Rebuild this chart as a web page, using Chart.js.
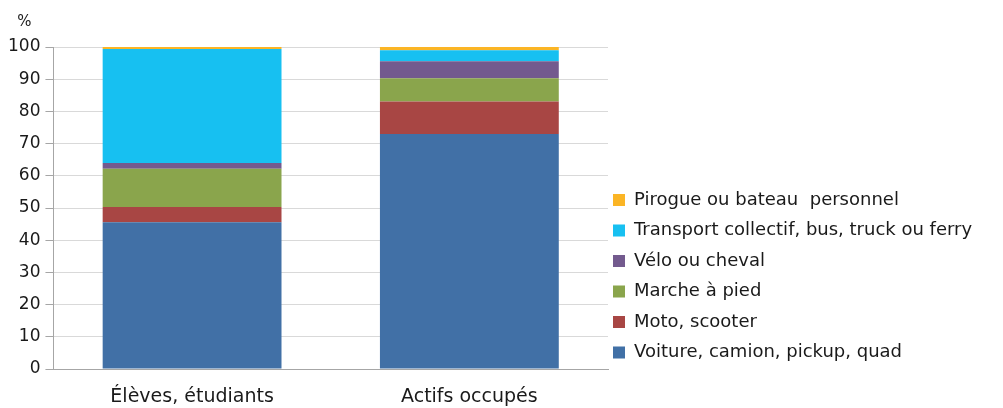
<!DOCTYPE html>
<html>
<head>
<meta charset="utf-8">
<script src="https://cdn.jsdelivr.net/npm/chart.js@4/dist/chart.umd.min.js"></script>
<style>
  html, body { margin: 0; padding: 0; background: #fff; }
  #wrap { position: relative; width: 1003px; height: 408px; }
</style>
</head>
<body>
<div id="wrap"><canvas id="c" width="1003" height="408"></canvas></div>
<script>
const categories = ["Élèves, étudiants", "Actifs occupés"];
const seriesNames = [
  "Voiture, camion, pickup, quad",
  "Moto, scooter",
  "Marche à pied",
  "Vélo ou cheval",
  "Transport collectif, bus, truck ou ferry",
  "Pirogue ou bateau  personnel"
];
const voiture   = [45.6, 73.0];
const moto      = [4.7, 10.1];
const marche    = [11.9, 7.2];
const velo      = [1.8, 5.3];
const transport = [35.4, 3.4];
const pirogue   = [0.6, 1.0];
const yTicks = [0, 10, 20, 30, 40, 50, 60, 70, 80, 90, 100];
const unitLabel = "%";

const colors = ["#4170a6", "#a84644", "#8aa54c", "#735a8e", "#17c0f1", "#fbb525"];
const values = [voiture, moto, marche, velo, transport, pirogue];

const FONT = "'DejaVu Sans', sans-serif";
const LEGEND_FONT = 18;
const LEGEND_PAD = 12.5;

const legendWidthPlugin = {
  id: 'legendWidth',
  beforeLayout(chart) {
    const lg = chart.legend;
    if (lg && !lg._patched) {
      const f = lg.fit.bind(lg);
      lg.fit = function () { f(); this.width = 395; };
      lg._patched = true;
    }
  },
  afterLayout(chart) {
    const lg = chart.legend;
    if (lg) {
      lg.left -= 7.5; lg.right -= 7.5;
      const h = lg.bottom - lg.top;
      lg.top = 200 - LEGEND_FONT / 2 - LEGEND_PAD;
      lg.bottom = lg.top + h;
    }
  }
};

const unitPlugin = {
  id: 'unitLabel',
  afterDraw(chart) {
    const ctx = chart.ctx;
    const a = chart.chartArea;
    ctx.save();
    ctx.font = "15px " + FONT;
    ctx.fillStyle = "#1a1a1a";
    ctx.textAlign = "center";
    ctx.textBaseline = "middle";
    ctx.fillText(unitLabel, a.left - 29, a.top - 25);
    ctx.restore();
  }
};

new Chart(document.getElementById('c'), {
  type: 'bar',
  data: {
    labels: categories,
    datasets: seriesNames.map((n, i) => ({
      label: n,
      data: values[i],
      backgroundColor: colors[i],
      borderWidth: 0,
      barPercentage: 0.645,
      categoryPercentage: 1.0
    }))
  },
  options: {
    responsive: false,
    animation: false,
    layout: { padding: { left: 3, right: 0, top: 47, bottom: 0 } },
    plugins: {
      legend: {
        position: 'right',
        align: 'start',
        reverse: true,
        labels: {
          boxWidth: 12,
          boxHeight: 12,
          padding: LEGEND_PAD,
          color: "#1a1a1a",
          font: { family: FONT, size: LEGEND_FONT }
        }
      },
      tooltip: { enabled: false },
      title: { display: false }
    },
    scales: {
      x: {
        stacked: true,
        afterFit(scale) { scale.height = 39; },
        grid: { display: false, drawTicks: false },
        border: { display: true, color: "#a6a6a6", width: 1 },
        ticks: { color: "#1a1a1a", font: { family: FONT, size: 19 }, padding: 17 }
      },
      y: {
        stacked: true,
        min: 0, max: 100,
        afterBuildTicks(scale) { scale.ticks = yTicks.map(v => ({ value: v })); },
        grid: { color: "#d9d9d9", lineWidth: 1, tickLength: 8, tickColor: "#a6a6a6" },
        border: { display: true, color: "#a6a6a6", width: 1 },
        ticks: { color: "#1a1a1a", font: { family: FONT, size: 17 }, padding: 5 }
      }
    }
  },
  plugins: [legendWidthPlugin, unitPlugin]
});
</script>
</body>
</html>
